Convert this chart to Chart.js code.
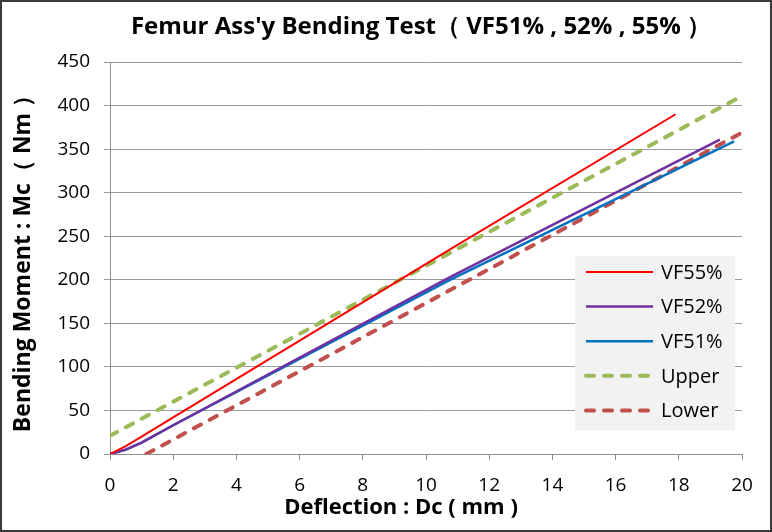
<!DOCTYPE html>
<html>
<head>
<meta charset="utf-8">
<script src="https://cdn.jsdelivr.net/npm/chart.js@4"></script>
<style>
  html, body { margin: 0; padding: 0; background: #fff; }
  #wrap { width: 772px; height: 532px; }
</style>
</head>
<body>
<div id="wrap"><canvas id="myChart" width="772" height="532"></canvas></div>
<script>
// values (deflection in mm, moment in Nm)
var vf55X = [0, 0.5, 1, 2, 10.76, 17.9];
var vf55Y = [0, 9, 20, 42, 235, 390];

var vf52X = [0, 0.5, 1, 2, 10.76, 19.3];
var vf52Y = [0, 5, 13, 33, 203, 361];

var vf51X = [0, 0.5, 1, 2, 10.76, 19.75];
var vf51Y = [0, 5, 13, 33, 200, 359];

var upperX = [0, 20];
var upperY = [21, 411];

var lowerX = [1.15, 20];
var lowerY = [0, 369];

var xTicks = [0, 2, 4, 6, 8, 10, 12, 14, 16, 18, 20];
var yTicks = [0, 50, 100, 150, 200, 250, 300, 350, 400, 450];

var chartTitle = "Femur Ass'y Bending Test（ VF51% , 52% , 55% ）";
var xTitle = "Deflection : Dc ( mm )";
var yTitle = "Bending Moment : Mc（ Nm ）";

var FONT = "'Open Sans', 'Noto Sans', sans-serif";

function pairs(xs, ys) {
    return xs.map(function (x, i) { return { x: x, y: ys[i] }; });
}

// legend box drawn inside the plot area, with grey background
var boxLegend = {
    id: "boxLegend",
    afterDatasetsDraw: function (chart) {
        var ctx = chart.ctx;
        var area = chart.chartArea;
        var w = 160, h = 174;
        var left = area.right - 7 - w;
        var top = area.bottom - 24 - h;
        ctx.save();
        ctx.fillStyle = "#f2f2f2";
        ctx.fillRect(left, top, w, h);
        chart.data.datasets.forEach(function (ds, i) {
            var yy = top + 16 + i * 34.6;
            ctx.beginPath();
            ctx.strokeStyle = ds.borderColor;
            ctx.lineWidth = ds.borderWidth;
            ctx.lineCap = ds.borderDash ? "round" : "butt";
            ctx.setLineDash(ds.borderDash || []);
            ctx.moveTo(left + 11, yy);
            ctx.lineTo(left + 78, yy);
            ctx.stroke();
            ctx.setLineDash([]);
            ctx.fillStyle = "#000";
            ctx.font = "20px " + FONT;
            ctx.textBaseline = "middle";
            ctx.fillText(ds.label, left + 86, yy + 1);
        });
        ctx.restore();
    }
};

// white background, chart title, x title and dark frame
var frame = {
    id: "frame",
    beforeDraw: function (chart) {
        var ctx = chart.ctx;
        ctx.save();
        ctx.fillStyle = "#fff";
        ctx.fillRect(0, 0, chart.width, chart.height);
        ctx.restore();
    },
    afterDraw: function (chart) {
        var ctx = chart.ctx;
        ctx.save();
        ctx.fillStyle = "#000";
        ctx.textAlign = "center";
        ctx.textBaseline = "middle";
        ctx.font = "bold 24px " + FONT;
        ctx.fillText(chartTitle, 421, 27);
        ctx.font = "bold 22px " + FONT;
        ctx.fillText(xTitle, 401, 508);
        ctx.strokeStyle = "#3a3a3a";
        ctx.lineWidth = 2;
        ctx.strokeRect(1, 1, chart.width - 2, chart.height - 2);
        ctx.restore();
    }
};

var ctx = document.getElementById("myChart").getContext("2d");
window.myChart = new Chart(ctx, {
    type: "scatter",
    data: {
        datasets: [
            {
                label: "VF55%",
                data: pairs(vf55X, vf55Y),
                borderColor: "#ff0000",
                borderWidth: 2
            },
            {
                label: "VF52%",
                data: pairs(vf52X, vf52Y),
                borderColor: "#7030a0",
                borderWidth: 2.5
            },
            {
                label: "VF51%",
                data: pairs(vf51X, vf51Y),
                borderColor: "#0070c0",
                borderWidth: 2.5
            },
            {
                label: "Upper",
                data: pairs(upperX, upperY),
                borderColor: "#9bbb59",
                borderWidth: 4,
                borderDash: [8, 10],
                borderCapStyle: "round"
            },
            {
                label: "Lower",
                data: pairs(lowerX, lowerY),
                borderColor: "#c0504d",
                borderWidth: 4,
                borderDash: [8, 10],
                borderCapStyle: "round"
            }
        ]
    },
    options: {
        responsive: false,
        animation: false,
        showLine: true,
        elements: {
            point: { radius: 0, hoverRadius: 0 },
            line: { tension: 0, fill: false }
        },
        layout: { padding: { left: 0, right: 30, top: 62, bottom: 0 } },
        plugins: {
            legend: { display: false },
            tooltip: { enabled: false },
            title: { display: false }
        },
        scales: {
            x: {
                type: "linear",
                min: 0,
                max: 20,
                afterBuildTicks: function (scale) {
                    scale.ticks = xTicks.map(function (v) { return { value: v }; });
                },
                afterFit: function (scale) { scale.height = 78; },
                ticks: { color: "#000", font: { family: FONT, size: 19 }, padding: 14 },
                grid: { drawOnChartArea: false, color: "#8c8c8c", tickLength: 6 },
                border: { color: "#8c8c8c" }
            },
            y: {
                min: 0,
                max: 450,
                afterBuildTicks: function (scale) {
                    scale.ticks = yTicks.map(function (v) { return { value: v }; });
                },
                afterFit: function (scale) { scale.width = 110; },
                ticks: { color: "#000", font: { family: FONT, size: 19 }, padding: 14 },
                grid: { color: "#9a9a9a", tickLength: 6 },
                border: { color: "#8c8c8c" },
                title: {
                    display: true,
                    text: yTitle,
                    color: "#000",
                    font: { family: FONT, size: 23, weight: "bold" },
                    padding: { top: 10, bottom: 0 }
                }
            }
        }
    },
    plugins: [frame, boxLegend]
});
</script>
</body>
</html>
